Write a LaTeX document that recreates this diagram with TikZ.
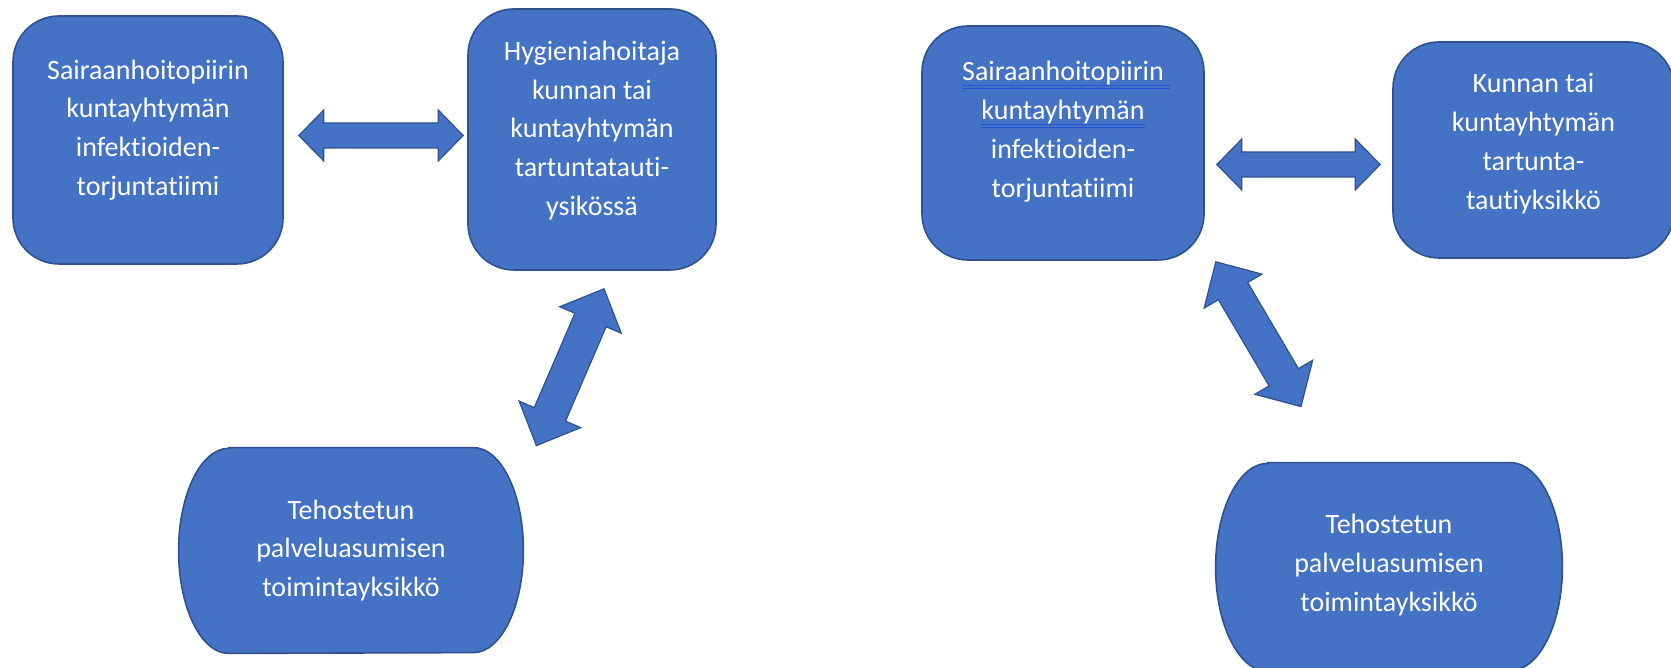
\documentclass[tikz,border=0pt]{standalone}
\usepackage{fontspec}
\setmainfont[Ligatures={NoCommon}]{Carlito}
\usepackage{xcolor}
\usepackage{tikz}
\usetikzlibrary{calc}

\definecolor{boxblue}{HTML}{4472C4}
\definecolor{boxedge}{HTML}{2F528F}
\definecolor{markblue}{HTML}{2456D8}

% blue double underline under the first two lines
\newsavebox{\markbox}
\newcommand{\proofmark}[2][0pt]{\sbox{\markbox}{#2}%
  \rlap{\textcolor{markblue}{\rule[-2.8pt]{\dimexpr\wd\markbox+#1\relax}{0.5pt}}}%
  \rlap{\textcolor{markblue}{\rule[-4.1pt]{\dimexpr\wd\markbox+#1\relax}{0.5pt}}}%
  \usebox{\markbox}}

\begin{document}
\begin{tikzpicture}[x=0.5pt, y=0.5pt,
  box/.style={draw=boxedge, fill=boxblue, line width=0.8pt,
              rounded corners=23pt, inner sep=0pt},
  ovalbox/.style={inner sep=0pt},
  oval/.style={draw=boxedge, fill=boxblue, line width=0.8pt},
  boxtext/.style={text=white, align=center, inner sep=0pt,
              font=\fontsize{14}{19.4}\selectfont},
  blockarrow/.style n args={3}{draw=boxedge, fill=boxblue, line width=0.6pt,
    line join=miter, to path={
      -- ($(\tikztostart)!#3!(\tikztotarget)!#2!90:(\tikztotarget)$)
      -- ($(\tikztostart)!#3!(\tikztotarget)!#1!90:(\tikztotarget)$)
      -- ($(\tikztotarget)!#3!(\tikztostart)!#1!-90:(\tikztostart)$)
      -- ($(\tikztotarget)!#3!(\tikztostart)!#2!-90:(\tikztostart)$)
      -- (\tikztotarget)
      -- ($(\tikztotarget)!#3!(\tikztostart)!#2!90:(\tikztostart)$)
      -- ($(\tikztotarget)!#3!(\tikztostart)!#1!90:(\tikztostart)$)
      -- ($(\tikztostart)!#3!(\tikztotarget)!#1!-90:(\tikztotarget)$)
      -- ($(\tikztostart)!#3!(\tikztotarget)!#2!-90:(\tikztotarget)$)
      -- cycle}}
]
  \useasboundingbox (0,0) rectangle (1671,668);
  \clip (0,0) rectangle (1671,668);

  % left group
  \node[box, minimum width=135pt, minimum height=124pt]   (sairA) at (148,528)   {};
  \node[box, minimum width=124pt, minimum height=130.5pt] (hygB)  at (592,528.5) {};
  \node[ovalbox, minimum width=172pt, minimum height=102.5pt] (tehoC) at (351,117.5) {};
  \draw[oval] ([xshift=25pt]tehoC.north west) -- ([xshift=-25pt]tehoC.north east)
    arc[start angle=90, end angle=-90, x radius=25pt, y radius=51.25pt]
    -- ([xshift=25pt]tehoC.south west)
    arc[start angle=270, end angle=90, x radius=25pt, y radius=51.25pt] -- cycle;

  \node[boxtext] (sairAtxt) at ([yshift=5pt]sairA.center)
    {Sairaanhoitopiirin\\kuntayhtymän\\infektioiden-\\torjuntatiimi};
  \node[boxtext] (hygBtxt) at ([yshift=4.5pt]hygB.center)
    {Hygieniahoitaja\\kunnan tai\\kuntayhtymän\\tartuntatauti-\\ysikössä};
  \node[boxtext] (tehoCtxt) at (tehoC.center)
    {Tehostetun\\palveluasumisen\\toimintayksikkö};

  \draw[blockarrow={6.25pt}{12.75pt}{12.5pt}]
    ([shift={(15,4.5)}]sairA.east) to ([shift={(-4,4)}]hygB.west);
  \draw[blockarrow={8.5pt}{16.75pt}{17pt}]
    ([shift={(12,-18)}]hygB.south) to ([shift={(13,2)}]tehoC.north east);

  % right group
  \node[box, minimum width=141pt, minimum height=117pt]   (sairD) at (1063,525)  {};
  \node[box, minimum width=140.5pt, minimum height=108pt] (kuntE) at (1533.5,518) {};
  \node[ovalbox, minimum width=173pt, minimum height=104pt] (tehoF) at (1389,101) {};
  \draw[oval] ([xshift=26pt]tehoF.north west) -- ([xshift=-26pt]tehoF.north east)
    arc[start angle=90, end angle=-90, x radius=26pt, y radius=52pt]
    -- ([xshift=26pt]tehoF.south west)
    arc[start angle=270, end angle=90, x radius=26pt, y radius=52pt] -- cycle;

  \node[boxtext] (sairDtxt) at ([yshift=5.75pt]sairD.center)
    {\proofmark[3pt]{Sairaanhoitopiirin}\\\proofmark{kuntayhtymän}\\infektioiden-\\torjuntatiimi};
  \node[boxtext] (kuntEtxt) at ([yshift=3.25pt]kuntE.center)
    {Kunnan tai\\kuntayhtymän\\tartunta-\\tautiyksikkö};
  \node[boxtext] (tehoFtxt) at ([yshift=1pt]tehoF.center)
    {Tehostetun\\palveluasumisen\\toimintayksikkö};

  \draw[blockarrow={6.25pt}{12.75pt}{12.5pt}]
    ([shift={(12,-21.5)}]sairD.east) to ([shift={(-12,-14.5)}]kuntE.west);
  \draw[blockarrow={8.5pt}{16.75pt}{17pt}]
    ([shift={(11,-1)}]sairD.south east) to ([shift={(-88,56)}]tehoF.north);
\end{tikzpicture}
\end{document}
